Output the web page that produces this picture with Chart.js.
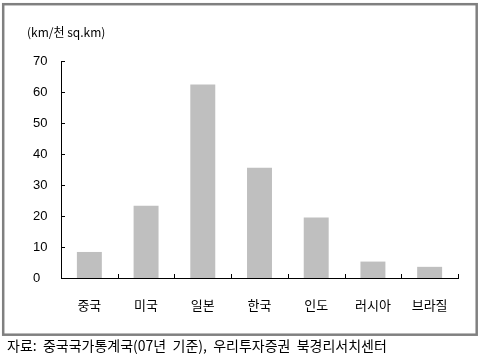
<!DOCTYPE html>
<html>
<head>
<meta charset="utf-8">
<script src="https://cdn.jsdelivr.net/npm/chart.js@4"></script>
<style>
  html, body { margin: 0; padding: 0; background: #fff; }
  #wrap { width: 480px; height: 361px; }
</style>
</head>
<body>
<div id="wrap"><canvas id="chart" width="480" height="361"></canvas></div>
<script>
// data
const countries = ['중국', '미국', '일본', '한국', '인도', '러시아', '브라질'];
const density = [8.4, 23.3, 62.4, 35.6, 19.5, 5.3, 3.6];
const yTicks = [0, 10, 20, 30, 40, 50, 60, 70];
const unitLabel = '(km/천 sq.km)';
const sourceNote = '자료:  중국국가통계국(07년  기준),  우리투자증권  북경리서치센터';

const numFont = '"Liberation Sans", Arial, sans-serif';
const krFont = '"Noto Sans CJK KR", "Liberation Sans", sans-serif';

// frame, unit label, source line and inward tick marks
const decorations = {
    id: 'decorations',
    afterDraw(chart) {
        const ctx = chart.ctx;
        const x = chart.scales.x;
        const y = chart.scales.y;
        ctx.save();

        // outer frame
        ctx.strokeStyle = '#808080';
        ctx.lineWidth = 2.5;
        ctx.strokeRect(3.2, 4.2, 473.5, 330.5);

        // inward ticks
        ctx.strokeStyle = '#000';
        ctx.lineWidth = 1;
        ctx.beginPath();
        yTicks.forEach(v => {
            const py = Math.round(y.getPixelForValue(v)) + 0.5;
            ctx.moveTo(x.left, py);
            ctx.lineTo(x.left + 4, py);
        });
        const step = (x.right - x.left) / countries.length;
        for (let i = 1; i <= countries.length; i++) {
            const px = Math.round(x.getPixelForValue(i - 1) + step / 2) + 0.5;
            ctx.moveTo(px, y.bottom);
            ctx.lineTo(px, y.bottom - 4);
        }
        ctx.stroke();

        // unit label
        ctx.fillStyle = '#000';
        ctx.textBaseline = 'middle';
        ctx.textAlign = 'left';
        ctx.font = '12px ' + krFont;
        ctx.fillText(unitLabel, 27, 32);

        // source line
        ctx.font = '14px ' + krFont;
        ctx.fillText(sourceNote, 7, 346);
        ctx.restore();
    }
};

new Chart(document.getElementById('chart'), {
    type: 'bar',
    data: {
        labels: countries,
        datasets: [{
            data: density,
            backgroundColor: '#bfbfbf',
            borderWidth: 0,
            categoryPercentage: 1,
            barPercentage: 0.44
        }]
    },
    options: {
        responsive: false,
        animation: false,
        events: [],
        layout: { padding: { left: 33, top: 61, right: 22, bottom: 0 } },
        plugins: {
            legend: { display: false },
            tooltip: { enabled: false }
        },
        scales: {
            x: {
                grid: { display: false, drawTicks: false },
                border: { display: true, color: '#000', width: 1 },
                ticks: {
                    color: '#000',
                    padding: 19,
                    maxRotation: 0,
                    font: { family: krFont, size: 13 }
                },
                afterFit(scale) { scale.height = 361 - 278; }
            },
            y: {
                min: 0,
                max: 70,
                grid: { display: false, drawTicks: false },
                border: { display: true, color: '#000', width: 1 },
                ticks: {
                    stepSize: 10,
                    color: '#000',
                    crossAlign: 'far',
                    font: { family: numFont, size: 13 }
                },
                afterFit(scale) { scale.width = 61 - 33; }
            }
        }
    },
    plugins: [decorations]
});
</script>
</body>
</html>
